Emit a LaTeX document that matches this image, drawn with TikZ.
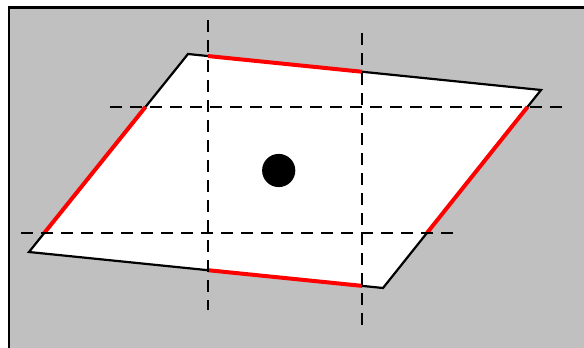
\documentclass[tikz,border=0pt]{standalone}
\usepackage{tikz}
\usetikzlibrary{calc}
\definecolor{backgray}{RGB}{192,192,192}
\definecolor{cutred}{RGB}{255,0,0}

\begin{document}
\begin{tikzpicture}[x=1pt,y=-1pt,
                    edge/.style={line width=2.2pt,line join=miter},
                    cutedge/.style={cutred,line width=4pt},
                    gridline/.style={line width=2.4pt,dash pattern=on 12pt off 8pt}]
  \useasboundingbox (0,0) rectangle (584,348);

  % --- background panel ---------------------------------------------------
  \fill[backgray] (9,7.5) rectangle (584,348);
  \draw[line width=2.6pt] (9,348) -- (9,7.5) -- (584,7.5);

  % --- parallelogram cell -------------------------------------------------
  \coordinate (TL) at (188,54);
  \coordinate (TR) at (541,90);
  \coordinate (BR) at (383,288);
  \coordinate (BL) at (29,252);
  \fill[white] (TL) -- (TR) -- (BR) -- (BL) -- cycle;
  \draw[edge] (TL) -- (TR) -- (BR) -- (BL) -- cycle;

  % --- dashed cut lines ---------------------------------------------------
  \coordinate (v1top) at (208,20);   \coordinate (v1bot) at (208,310);
  \coordinate (v2top) at (362,33);   \coordinate (v2bot) at (362,326);
  \coordinate (h1left) at (110,107); \coordinate (h1right) at (569,107);
  \coordinate (h2left) at (21,233);  \coordinate (h2right) at (459,233);

  % --- red pieces of the boundary between the cuts ------------------------
  \draw[cutedge] (intersection of TL--TR and v1top--v1bot)
              -- (intersection of TL--TR and v2top--v2bot);
  \draw[cutedge] (intersection of BL--BR and v1top--v1bot)
              -- (intersection of BL--BR and v2top--v2bot);
  \draw[cutedge] (intersection of BL--TL and h1left--h1right)
              -- (intersection of BL--TL and h2left--h2right);
  \draw[cutedge] (intersection of BR--TR and h1left--h1right)
              -- (intersection of BR--TR and h2left--h2right);

  \draw[gridline] (v1top) -- (v1bot);
  \draw[gridline] (v2top) -- (v2bot);
  \draw[gridline] (h1left) -- (h1right);
  \draw[gridline] (h2left) -- (h2right);

  % --- centre point -------------------------------------------------------
  \fill (278.7,170.5) circle[radius=16.6pt];
\end{tikzpicture}
\end{document}
